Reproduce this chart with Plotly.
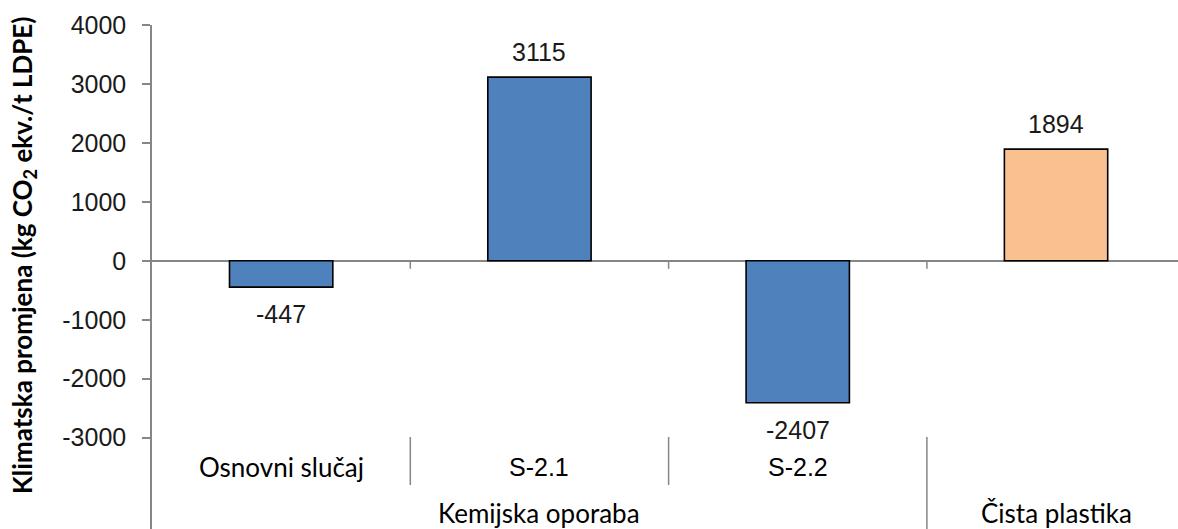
import plotly.graph_objects as go

# ---- data ----
scenarios = ["Osnovni slučaj", "S-2.1", "S-2.2", ""]
groups = ["Kemijska oporaba", "Kemijska oporaba", "Kemijska oporaba", "Čista plastika"]
values = [-447, 3115, -2407, 1894]
y_ticks = [-3000, -2000, -1000, 0, 1000, 2000, 3000, 4000]
y_title = "Klimatska promjena (kg CO<sub>2</sub> ekv./t LDPE)"

# ---- style ----
bar_colors = ["#4F81BD", "#4F81BD", "#4F81BD", "#FAC090"]
axis_gray = "#868686"
num_font = "Liberation Sans, Arial, sans-serif"
cal_font = "Lato, Open Sans, sans-serif"

W, H = 1178, 529
ml, mt = 152, 25
plot_h = H - mt
y_top = 4000
px_per_unit = 58.95 / 1000
y_bottom = y_top - plot_h / px_per_unit
cat_w = 258.3
x_right = -0.5 + (W - ml) / cat_w

def paper_y(px):
    return (H - px) / plot_h

xs = list(range(len(values)))

fig = go.Figure()
fig.add_trace(go.Bar(
    x=xs, y=values, width=0.40,
    marker=dict(color=bar_colors, line=dict(color="#000000", width=1.6)),
    hoverinfo="skip",
))

# data labels
for xi, v in zip(xs, values):
    fig.add_annotation(x=xi, y=v, xref="x", yref="y", text=str(v), showarrow=False,
                       yanchor="middle", yshift=25 if v > 0 else -27,
                       font=dict(family=num_font, size=25, color="#1a1a1a"))

# category labels, level 1
for xi, s in zip(xs, scenarios):
    if not s:
        continue
    fam = cal_font if s.startswith("Osnovni") else num_font
    size = 26 if s.startswith("Osnovni") else 25
    fig.add_annotation(x=xi, y=paper_y(467), xref="x", yref="paper", text=s, showarrow=False,
                       yanchor="middle", font=dict(family=fam, size=size, color="#000000"))

# category labels, level 2 (group centres)
seen = []
for g in groups:
    if g not in seen:
        seen.append(g)
for g in seen:
    idx = [i for i, gg in enumerate(groups) if gg == g]
    cx = (min(idx) + max(idx)) / 2
    fig.add_annotation(x=cx, y=paper_y(513), xref="x", yref="paper", text=g, showarrow=False,
                       yanchor="middle", font=dict(family=cal_font, size=26, color="#000000"))

# ticks on the zero line between categories and dividers in the label area
for i in range(len(values) - 1):
    b = i + 0.5
    fig.add_shape(type="line", xref="x", yref="y", ysizemode="pixel", yanchor=0,
                  x0=b, x1=b, y0=0, y1=-8, line=dict(color=axis_gray, width=1.5))
    group_edge = groups[i] != groups[i + 1]
    fig.add_shape(type="line", xref="x", yref="paper",
                  x0=b, x1=b, y0=paper_y(437), y1=paper_y(529 if group_edge else 485),
                  line=dict(color=axis_gray, width=1.5))

# y-axis title
fig.add_annotation(x=(23 - ml) / (W - ml), y=paper_y(256), xref="paper", yref="paper",
                   xanchor="center", yanchor="middle",
                   text=y_title, textangle=-90, showarrow=False,
                   font=dict(family=cal_font, size=26, color="#000000", weight="bold"))

fig.update_layout(
    width=W, height=H,
    margin=dict(l=ml, r=0, t=mt, b=0, pad=0),
    paper_bgcolor="white", plot_bgcolor="white",
    showlegend=False,
    xaxis=dict(range=[-0.5, x_right], showticklabels=False, showgrid=False,
               zeroline=False, showline=False, ticks=""),
    yaxis=dict(range=[y_bottom, y_top], tickvals=y_ticks, ticktext=[str(t) for t in y_ticks],
               showgrid=False, zeroline=True, zerolinecolor=axis_gray, zerolinewidth=1.5,
               showline=True, linecolor=axis_gray, linewidth=1.5,
               ticks="outside", ticklen=8, tickcolor=axis_gray, tickwidth=1.5,
               ticklabelstandoff=11,
               tickfont=dict(family=num_font, size=25, color="#1a1a1a")),
)

fig.write_html("out.html", config={"displayModeBar": False},
               post_script="document.body.style.margin='0';document.body.style.overflow='hidden';")
